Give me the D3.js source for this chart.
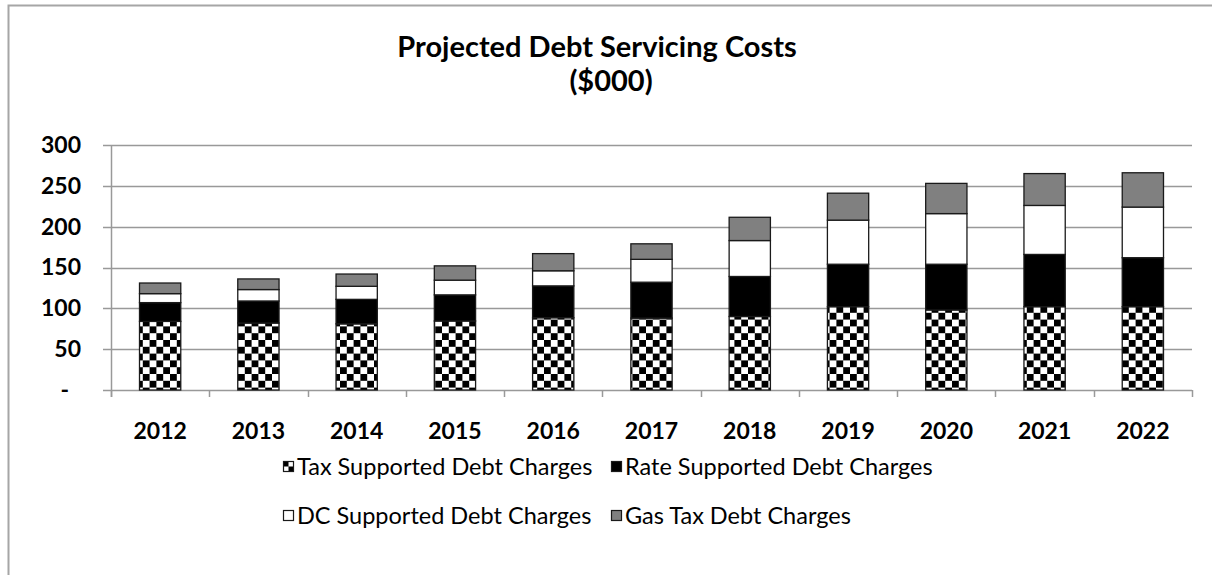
<!DOCTYPE html>
<html>
<head>
<meta charset="utf-8">
<script src="https://cdn.jsdelivr.net/npm/d3@7"></script>
<style>
  body { margin: 0; background: #fff; }
  svg { display: block; }
  text { font-family: Lato, "Open Sans", "Liberation Sans", sans-serif; fill: #000; }
</style>
</head>
<body>
<svg id="chart" width="1212" height="575"></svg>
<script>
// Projected debt servicing costs, $000 per year
const years = ["2012", "2013", "2014", "2015", "2016", "2017", "2018", "2019", "2020", "2021", "2022"];
const taxSupported  = [84, 82, 81, 84.5, 88.5, 88, 90, 102, 98, 102, 102];
const rateSupported = [23, 27, 30, 32, 39, 44, 49, 52, 56, 64, 60];
const dcSupported   = [11, 14, 16, 18, 18.5, 28, 44, 54, 62, 60, 62];
const gasTax        = [13, 13, 15, 17.5, 21, 19, 28.5, 33, 37, 39, 42];

const seriesKeys  = ["tax", "rate", "dc", "gas"];
const seriesNames = ["Tax Supported Debt Charges", "Rate Supported Debt Charges",
                     "DC Supported Debt Charges", "Gas Tax Debt Charges"];
const yTicks = [0, 50, 100, 150, 200, 250, 300];
const titleLines = ["Projected Debt Servicing Costs", "($000)"];

const rows = years.map((y, i) => ({
  year: y, tax: taxSupported[i], rate: rateSupported[i], dc: dcSupported[i], gas: gasTax[i]
}));

const svg = d3.select("#chart");
const defs = svg.append("defs");

// checkerboard fill for the tax-supported segment
const cell = 6.8;
const chk = defs.append("pattern").attr("id", "checker")
  .attr("patternUnits", "userSpaceOnUse").attr("width", cell * 2).attr("height", cell * 2);
chk.append("rect").attr("width", cell * 2).attr("height", cell * 2).attr("fill", "#fff");
chk.append("rect").attr("width", cell).attr("height", cell).attr("fill", "#000");
chk.append("rect").attr("x", cell).attr("y", cell).attr("width", cell).attr("height", cell).attr("fill", "#000");

// smaller checker for the legend swatch
const chkS = defs.append("pattern").attr("id", "checkerSmall")
  .attr("patternUnits", "objectBoundingBox").attr("width", 1).attr("height", 1)
  .attr("patternContentUnits", "objectBoundingBox");
chkS.append("rect").attr("width", 1).attr("height", 1).attr("fill", "#fff");
chkS.append("rect").attr("width", 0.5).attr("height", 0.5).attr("fill", "#000");
chkS.append("rect").attr("x", 0.5).attr("y", 0.5).attr("width", 0.5).attr("height", 0.5).attr("fill", "#000");

const fills = { tax: "url(#checker)", rate: "#000", dc: "#fff", gas: "#808080" };

// outer frame of the chart area
svg.append("rect").attr("x", 8.5).attr("y", 5.5).attr("width", 1300).attr("height", 700)
  .attr("fill", "none").attr("stroke", "#a6a6a6").attr("stroke-width", 2);

const plot = { left: 111, right: 1192, top: 145, bottom: 390 };

const x = d3.scaleBand().domain(years)
  .range([plot.left, plot.right]).paddingInner(0.58).paddingOuter(0.29);
const y = d3.scaleLinear().domain([0, 300]).range([plot.bottom, plot.top]);

const gridColor = "#999999";

// horizontal gridlines (extend a little left of the axis as ticks)
svg.append("g").selectAll("line").data(yTicks).join("line")
  .attr("x1", plot.left - 8).attr("x2", plot.right)
  .attr("y1", d => Math.round(y(d)) + 0.5).attr("y2", d => Math.round(y(d)) + 0.5)
  .attr("stroke", gridColor).attr("stroke-width", 1.5);

// y axis line
svg.append("line").attr("x1", plot.left + 0.5).attr("x2", plot.left + 0.5)
  .attr("y1", plot.top).attr("y2", plot.bottom + 7)
  .attr("stroke", gridColor).attr("stroke-width", 1.5);

// category boundary ticks below the x axis
const step = x.step();
const bounds = d3.range(years.length + 1).map(i => plot.left + i * step);
svg.append("g").selectAll("line").data(bounds).join("line")
  .attr("x1", d => Math.round(d) + 0.5).attr("x2", d => Math.round(d) + 0.5)
  .attr("y1", plot.bottom).attr("y2", plot.bottom + 7)
  .attr("stroke", gridColor).attr("stroke-width", 1.5);

// y axis labels
const yAxis = d3.axisLeft(y).tickValues(yTicks).tickSize(0).tickPadding(0)
  .tickFormat(d => d === 0 ? "-" : d3.format("d")(d));
const yg = svg.append("g").attr("transform", `translate(${plot.left - 30},0)`).call(yAxis);
yg.select(".domain").remove();
yg.selectAll("text").attr("font-size", 23).attr("font-weight", "bold")
  .attr("font-family", "Lato, 'Open Sans', sans-serif").attr("fill", "#000");
yg.selectAll(".tick").filter(d => d === 0).select("text").attr("dx", -12);

// x axis labels
const xAxis = d3.axisBottom(x).tickSize(0).tickPadding(0);
const xg = svg.append("g").attr("transform", `translate(0,${plot.bottom})`).call(xAxis);
xg.select(".domain").remove();
xg.selectAll("text").attr("font-size", 23).attr("font-weight", "bold")
  .attr("font-family", "Lato, 'Open Sans', sans-serif").attr("fill", "#000")
  .attr("y", 41).attr("dy", "0.35em");

// stacked bars
const stacked = d3.stack().keys(seriesKeys)(rows);
svg.append("g").selectAll("g").data(stacked).join("g")
  .attr("fill", d => fills[d.key])
  .selectAll("rect").data(d => d).join("rect")
  .attr("x", d => x(d.data.year))
  .attr("width", x.bandwidth())
  .attr("y", d => y(d[1]))
  .attr("height", d => y(d[0]) - y(d[1]))
  .attr("stroke", "#1a1a1a").attr("stroke-width", 1.3);

// title
const title = svg.append("g");
title.append("text").attr("x", 597).attr("y", 57).attr("text-anchor", "middle")
  .attr("font-size", 29).attr("font-weight", "bold").text(titleLines[0]);
title.append("text").attr("x", 611).attr("y", 91).attr("text-anchor", "middle")
  .attr("font-size", 29).attr("font-weight", "bold").text(titleLines[1]);

// legend, two rows of two entries
const legendPos = [
  { sx: 283, ty: 467 }, { sx: 611, ty: 467 },
  { sx: 283, ty: 516 }, { sx: 611, ty: 516 }
];
const legend = svg.append("g").selectAll("g").data(seriesKeys).join("g");
legend.append("rect")
  .attr("x", (d, i) => legendPos[i].sx + 0.5).attr("y", (d, i) => legendPos[i].ty - 5.5)
  .attr("width", 10).attr("height", 10)
  .attr("fill", d => d === "tax" ? "url(#checkerSmall)" : fills[d])
  .attr("stroke", "#1a1a1a").attr("stroke-width", 1.2);
legend.append("text")
  .attr("x", (d, i) => legendPos[i].sx + 14).attr("y", (d, i) => legendPos[i].ty)
  .attr("dy", "0.35em").attr("font-size", 23.5)
  .text((d, i) => seriesNames[i]);
</script>
</body>
</html>
